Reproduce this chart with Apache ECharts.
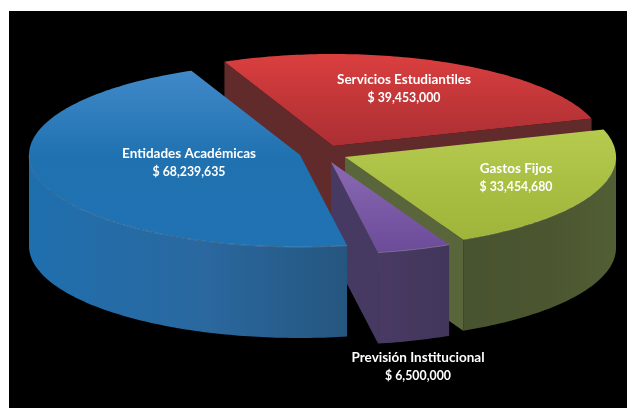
<!DOCTYPE html>
<html>
<head>
<meta charset="utf-8">
<script src="https://cdn.jsdelivr.net/npm/echarts@6/dist/echarts.min.js"></script>
<style>
  html, body { margin: 0; padding: 0; background: #fff; }
  #main { width: 627px; height: 408px; }
</style>
</head>
<body>
<div id="main"></div>
<script>
const categories = ['Entidades Académicas', 'Servicios Estudiantiles', 'Gastos Fijos', 'Previsión Institucional']
const amounts = [68239635, 39453000, 33454680, 6500000]

// painter's order: back slices first, blue sits over the purple wedge
const drawOrder = [1, 2, 3, 0]

// 3d look, one entry per slice, same order as categories
const apex = [[300, 155], [333, 146], [345, 157], [331, 162]]
const labelAt = [[189, 163], [404, 89], [516, 178], [418, 367]]
const topColors = [
  ['#4189c9', '#1f71b0', '#2072b2'],
  ['#db3f3f', '#c23638', '#ab2f34'],
  ['#b6cb4e', '#a9bf44', '#9fb43a'],
  ['#8a6bb2', '#7a5aa6', '#6c4c98'],
]
const wallColors = [
  ['#1f6fae', '#2a689f', '#25567f'],
  ['#612b2b', '#612b2b', '#612b2b'],
  ['#48532f', '#4b5631', '#525e34'],
  ['#483a63', '#45385f', '#42365a'],
]
const cutColors = ['#25567f', '#612b2b', '#59653a', '#463a62']

const RX = 271
const RY = 92
const DEPTH = 91
const START = 170 // degrees clockwise from the top of the ellipse

const total = amounts.reduce((a, b) => a + b, 0)
const spans = []
let acc = START
amounts.forEach((v) => {
  const sweep = (v / total) * 360
  spans.push([acc, acc + sweep])
  acc += sweep
})

const rimPoint = (c, deg, dy) => {
  const t = (deg * Math.PI) / 180
  return [c[0] + RX * Math.sin(t), c[1] - RY * Math.cos(t) + dy]
}

const arcPoints = (c, from, to, dy) => {
  const pts = []
  const n = Math.max(2, Math.ceil(Math.abs(to - from)))
  for (let i = 0; i <= n; i++) {
    pts.push(rimPoint(c, from + ((to - from) * i) / n, dy))
  }
  return pts
}

const vertical = (stops) => ({
  type: 'linear', x: 0, y: 0, x2: 0, y2: 1,
  colorStops: [
    { offset: 0, color: stops[0] },
    { offset: 0.5, color: stops[1] },
    { offset: 1, color: stops[2] },
  ],
})

const horizontal = (stops) => ({
  type: 'linear', x: 0, y: 0, x2: 1, y2: 0,
  colorStops: [
    { offset: 0, color: stops[0] },
    { offset: 0.55, color: stops[1] },
    { offset: 1, color: stops[2] },
  ],
})

// wall below a straight cut, from the apex to a rim point
const cutFace = (c, deg, fill) => {
  const p = rimPoint(c, deg, 0)
  return {
    type: 'polygon',
    shape: { points: [c, p, [p[0], p[1] + DEPTH], [c[0], c[1] + DEPTH]] },
    style: { fill },
  }
}

const renderSlice = (params, api) => {
  const i = api.value(0)
  const c = apex[i]
  const from = spans[i][0]
  const to = spans[i][1]
  const children = []
  const rims = []

  // straight cut faces that look towards the viewer
  if (i === 1) {
    children.push(cutFace(c, from, cutColors[i]))
    children.push(cutFace(c, to, cutColors[i]))
  }
  if (i === 2 || i === 3) {
    children.push(cutFace(c, to, cutColors[i]))
  }

  // outer wall, only the part of the rim facing front (90..270 deg, also one turn up)
  ;[0, 360].forEach((turn) => {
    const wFrom = Math.max(from, 90 + turn)
    const wTo = Math.min(to, 270 + turn)
    if (wTo > wFrom) {
      const topEdge = arcPoints(c, wFrom, wTo, 0)
      const bottomEdge = arcPoints(c, wTo, wFrom, DEPTH)
      children.push({
        type: 'polygon',
        shape: { points: topEdge.concat(bottomEdge) },
        style: { fill: horizontal(wallColors[i]) },
      })
      rims.push({
        type: 'polyline',
        shape: { points: topEdge },
        style: { fill: 'none', stroke: 'rgba(255,255,255,0.16)', lineWidth: 1 },
      })
    }
  })

  // top surface
  children.push({
    type: 'polygon',
    shape: { points: [c].concat(arcPoints(c, from, to, 0)) },
    style: { fill: vertical(topColors[i]) },
  })

  return { type: 'group', children: children.concat(rims) }
}

const labelText = (x, y, text, size) => ({
  type: 'text',
  x,
  y,
  style: {
    text,
    fill: '#fff',
    font: 'bold ' + size + 'px Lato, sans-serif',
    align: 'center',
    verticalAlign: 'middle',
    shadowColor: 'rgba(0,0,0,0.6)',
    shadowBlur: 2,
  },
})

const renderLabel = (params, api) => {
  const i = api.value(0)
  const p = labelAt[i]
  return {
    type: 'group',
    children: [
      labelText(p[0], p[1] - 9, categories[i], 13.5),
      labelText(p[0], p[1] + 9, '$ ' + amounts[i].toLocaleString('en-US'), 12.3),
    ],
  }
}

const chart = echarts.init(document.getElementById('main'))
chart.setOption({
  animation: false,
  backgroundColor: '#fff',
  graphic: [
    {
      type: 'rect',
      shape: { x: 9, y: 11, width: 618, height: 397 },
      style: { fill: '#000' },
      silent: true,
    },
  ],
  series: [
    {
      type: 'custom',
      coordinateSystem: 'none',
      renderItem: renderSlice,
      data: drawOrder.map((i) => [i, amounts[i]]),
      silent: true,
      z: 2,
    },
    {
      type: 'custom',
      coordinateSystem: 'none',
      renderItem: renderLabel,
      data: categories.map((name, i) => [i, name]),
      silent: true,
      z: 3,
    },
  ],
})
</script>
</body>
</html>
